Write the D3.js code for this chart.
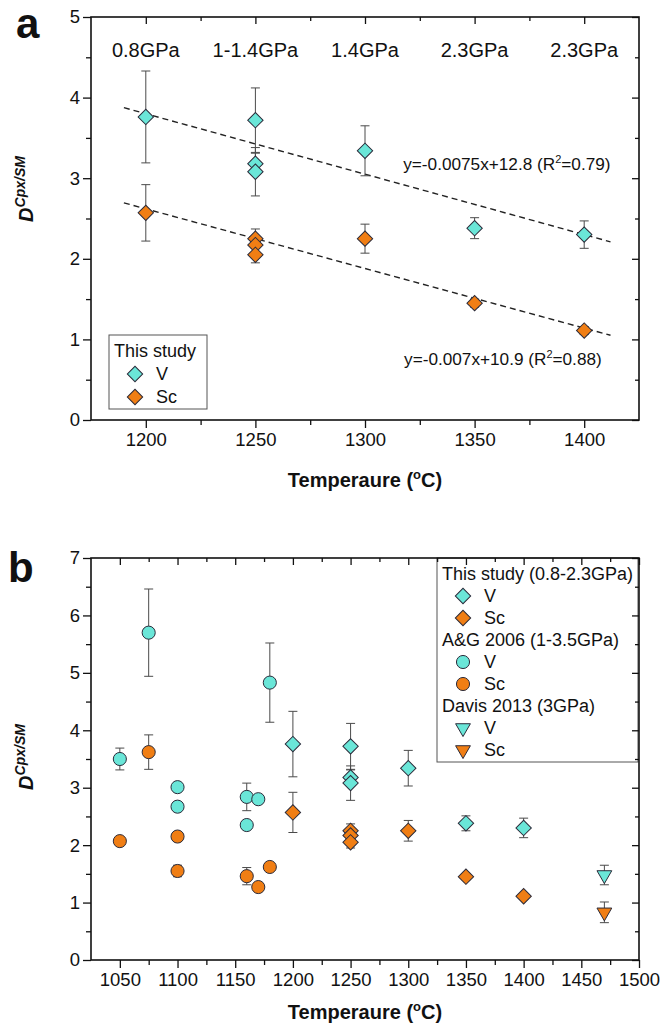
<!DOCTYPE html>
<html>
<head>
<meta charset="UTF-8">
<style>
  body { margin: 0; background: #fff; }
  svg text { font-family: "Liberation Sans", Arial, sans-serif; fill: #111; }
</style>
</head>
<body>
<svg id="chart"></svg>
<script src="https://d3js.org/d3.v7.min.js"></script>
<script>
// ---- data ----
const pressTemps = [1200, 1250, 1300, 1350, 1400];
const pressLabels = ["0.8GPa", "1-1.4GPa", "1.4GPa", "2.3GPa", "2.3GPa"];

// this study
const thisT     = [1200, 1250, 1250, 1250, 1300, 1350, 1400];
const thisV     = [3.76, 3.72, 3.18, 3.08, 3.34, 2.38, 2.30];
const thisVErr  = [0.57, 0.40, 0.13, 0.30, 0.31, 0.13, 0.17];
const thisSc    = [2.57, 2.25, 2.17, 2.05, 2.25, 1.45, 1.11];
const thisScErr = [0.35, 0.12, 0.10, 0.10, 0.18, 0.05, 0.05];

// A&G 2006
const agVT    = [1050, 1075, 1100, 1100, 1160, 1160, 1170, 1180];
const agV     = [3.50, 5.70, 3.01, 2.67, 2.84, 2.35, 2.80, 4.83];
const agVErr  = [0.19, 0.76, 0.05, 0.05, 0.24, 0.05, 0.05, 0.69];
const agScT   = [1050, 1075, 1100, 1100, 1160, 1170, 1180];
const agSc    = [2.07, 3.62, 2.15, 1.55, 1.46, 1.27, 1.62];
const agScErr = [0.05, 0.30, 0.06, 0.10, 0.15, 0.04, 0.05];

// Davis 2013
const davT     = [1470];
const davV     = [1.48];
const davVErr  = [0.17];
const davSc    = [0.83];
const davScErr = [0.18];

// regression lines (panel a)
const fitSlope = [-0.0075, -0.0074];
const fitIntercept = [12.8, 11.5];
const fitRange = [1190, 1412];
const fitLabels = [["y=-0.0075x+12.8 (R", "2", "=0.79)"], ["y=-0.007x+10.9 (R", "2", "=0.88)"]];
const fitLabelPos = [[1412, 3.10], [1408, 0.68]];

const cyan = "#6ae6d8", orange = "#f07e14", edge = "#2b2b3a", errCol = "#4a4a4a";

const width = 661, height = 1029;
const svg = d3.select("#chart").attr("width", width).attr("height", height);

function pts(T, Y, E) { return T.map((t, i) => ({ t, y: Y[i], e: E[i] })); }

function symPath(kind) {
  if (kind === "diamond") return d3.symbol(d3.symbolSquare, 118)();
  if (kind === "circle") return d3.symbol(d3.symbolCircle, 135)();
  return d3.symbol(d3.symbolTriangle, 95)();
}
function symRot(kind) { return kind === "diamond" ? 45 : kind === "triangle" ? 180 : 0; }

function frame(g, x, y, xMajor, xMinor, yMajor, yMinor) {
  const [x0, x1] = x.range(), [y0, y1] = y.range();
  const style = sel => {
    sel.select(".domain").remove();
    sel.selectAll("line").attr("stroke", "#111").attr("stroke-width", 1.3);
    sel.selectAll("text").attr("font-size", 18.5).attr("fill", "#111")
      .attr("font-family", "'Liberation Sans', Arial, sans-serif");
  };
  g.append("g").attr("transform", `translate(0,${y0})`)
    .call(d3.axisBottom(x).tickValues(xMajor).tickSize(8).tickPadding(5).tickFormat(d3.format("d"))).call(style);
  g.append("g").attr("transform", `translate(0,${y0})`)
    .call(d3.axisBottom(x).tickValues(xMinor).tickSize(5).tickFormat("")).call(style);
  g.append("g").attr("transform", `translate(0,${y1})`)
    .call(d3.axisTop(x).tickValues(xMajor).tickSize(-7).tickFormat("")).call(style);
  g.append("g").attr("transform", `translate(0,${y1})`)
    .call(d3.axisTop(x).tickValues(xMinor).tickSize(-4).tickFormat("")).call(style);
  g.append("g").attr("transform", `translate(${x0},0)`)
    .call(d3.axisLeft(y).tickValues(yMajor).tickSize(8).tickPadding(3).tickFormat(d3.format("d"))).call(style);
  g.append("g").attr("transform", `translate(${x0},0)`)
    .call(d3.axisLeft(y).tickValues(yMinor).tickSize(5).tickFormat("")).call(style);
  g.append("g").attr("transform", `translate(${x1},0)`)
    .call(d3.axisRight(y).tickValues(yMajor).tickSize(-7).tickFormat("")).call(style);
  g.append("g").attr("transform", `translate(${x1},0)`)
    .call(d3.axisRight(y).tickValues(yMinor).tickSize(-4).tickFormat("")).call(style);
  g.append("rect").attr("x", x0).attr("y", y1).attr("width", x1 - x0).attr("height", y0 - y1)
    .attr("fill", "none").attr("stroke", "#111").attr("stroke-width", 1.6);
}

function series(g, x, y, data, kind, fill) {
  const eb = g.append("g").attr("stroke", errCol).attr("stroke-width", 1);
  data.forEach(d => {
    const cx = x(d.t), yt = y(d.y + d.e), yb = y(d.y - d.e);
    eb.append("line").attr("x1", cx).attr("x2", cx).attr("y1", yt).attr("y2", yb);
    eb.append("line").attr("x1", cx - 4.5).attr("x2", cx + 4.5).attr("y1", yt).attr("y2", yt);
    eb.append("line").attr("x1", cx - 4.5).attr("x2", cx + 4.5).attr("y1", yb).attr("y2", yb);
  });
  g.append("g").selectAll("path").data(data).join("path")
    .attr("d", symPath(kind))
    .attr("transform", d => `translate(${x(d.t)},${y(d.y)}) rotate(${symRot(kind)})`)
    .attr("fill", fill).attr("stroke", edge).attr("stroke-width", 1);
}

function yTitle(g, cx, cy) {
  const t = g.append("text").attr("transform", `translate(${cx},${cy}) rotate(-90)`)
    .attr("text-anchor", "middle").attr("font-weight", "bold").attr("font-style", "italic");
  t.append("tspan").attr("font-size", 20).text("D");
  t.append("tspan").attr("font-size", 14).attr("dy", -8).text("Cpx/SM");
}
function xTitle(g, cx, by) {
  const t = g.append("text").attr("x", cx).attr("y", by).attr("text-anchor", "middle")
    .attr("font-weight", "bold").attr("font-size", 20);
  t.append("tspan").text("Temperaure (");
  t.append("tspan").attr("font-size", 13).attr("dy", -8).text("o");
  t.append("tspan").attr("dy", 8).text("C)");
}

function legend(g, x0, y0, w, h, rows, rowH) {
  g.append("rect").attr("x", x0).attr("y", y0).attr("width", w).attr("height", h)
    .attr("fill", "#fff").attr("stroke", "#555").attr("stroke-width", 1);
  rows.forEach((r, i) => {
    const cy = y0 + 16 + i * rowH;
    if (r.kind) {
      g.append("path").attr("d", symPath(r.kind))
        .attr("transform", `translate(${x0 + 26},${cy}) rotate(${symRot(r.kind)})`)
        .attr("fill", r.fill).attr("stroke", edge).attr("stroke-width", 1);
      g.append("text").attr("x", x0 + 47).attr("y", cy + 6).attr("font-size", 18).text(r.label);
    } else {
      g.append("text").attr("x", x0 + 5).attr("y", cy + 6).attr("font-size", 18).text(r.label);
    }
  });
}

// ---- panel a ----
const ga = svg.append("g");
const xA = d3.scaleLinear().domain([1175, 1425]).range([91, 639]);
const yA = d3.scaleLinear().domain([0, 5]).range([420, 17]);

// fit lines
fitSlope.forEach((s, i) => {
  ga.append("line")
    .attr("x1", xA(fitRange[0])).attr("y1", yA(s * fitRange[0] + fitIntercept[i]))
    .attr("x2", xA(fitRange[1])).attr("y2", yA(s * fitRange[1] + fitIntercept[i]))
    .attr("stroke", "#222").attr("stroke-width", 1.4).attr("stroke-dasharray", "6,4");
  const t = ga.append("text").attr("x", xA(fitLabelPos[i][0])).attr("y", yA(fitLabelPos[i][1]))
    .attr("text-anchor", "end").attr("font-size", 17.2);
  t.append("tspan").text(fitLabels[i][0]);
  t.append("tspan").attr("font-size", 11).attr("dy", -7).text(fitLabels[i][1]);
  t.append("tspan").attr("dy", 7).text(fitLabels[i][2]);
});

series(ga, xA, yA, pts(thisT, thisSc, thisScErr), "diamond", orange);
series(ga, xA, yA, pts(thisT, thisV, thisVErr), "diamond", cyan);

ga.selectAll("text.press").data(pressTemps).join("text").attr("class", "press")
  .attr("x", d => xA(d)).attr("y", 57).attr("text-anchor", "middle").attr("font-size", 20)
  .text((d, i) => pressLabels[i]);

frame(ga, xA, yA, [1200, 1250, 1300, 1350, 1400], [1225, 1275, 1325, 1375],
  d3.range(0, 6), d3.range(0.5, 5, 1));
legend(ga, 109, 335, 98, 74, [
  { label: "This study" },
  { label: "V", kind: "diamond", fill: cyan },
  { label: "Sc", kind: "diamond", fill: orange }], 23);
yTitle(ga, 33, 189);
xTitle(ga, 365, 487);
ga.append("text").attr("x", 16).attr("y", 38).attr("font-size", 42).attr("font-weight", "bold").text("a");

// ---- panel b ----
const gb = svg.append("g");
const xB = d3.scaleLinear().domain([1025, 1500]).range([91, 639]);
const yB = d3.scaleLinear().domain([0, 7]).range([960, 558]);

legend(gb, 437, 558, 201, 204, [
  { label: "This study (0.8-2.3GPa)" },
  { label: "V", kind: "diamond", fill: cyan },
  { label: "Sc", kind: "diamond", fill: orange },
  { label: "A&G 2006 (1-3.5GPa)" },
  { label: "V", kind: "circle", fill: cyan },
  { label: "Sc", kind: "circle", fill: orange },
  { label: "Davis 2013 (3GPa)" },
  { label: "V", kind: "triangle", fill: cyan },
  { label: "Sc", kind: "triangle", fill: orange }], 22);

series(gb, xB, yB, pts(agVT, agV, agVErr), "circle", cyan);
series(gb, xB, yB, pts(agScT, agSc, agScErr), "circle", orange);
series(gb, xB, yB, pts(thisT, thisSc, thisScErr), "diamond", orange);
series(gb, xB, yB, pts(thisT, thisV, thisVErr), "diamond", cyan);
series(gb, xB, yB, pts(davT, davV, davVErr), "triangle", cyan);
series(gb, xB, yB, pts(davT, davSc, davScErr), "triangle", orange);

frame(gb, xB, yB, d3.range(1050, 1501, 50), d3.range(1075, 1500, 50),
  d3.range(0, 8), d3.range(0.5, 7, 1));
yTitle(gb, 33, 757);
xTitle(gb, 365, 1019);
gb.append("text").attr("x", 8).attr("y", 582).attr("font-size", 42).attr("font-weight", "bold").text("b");
</script>
</body>
</html>
